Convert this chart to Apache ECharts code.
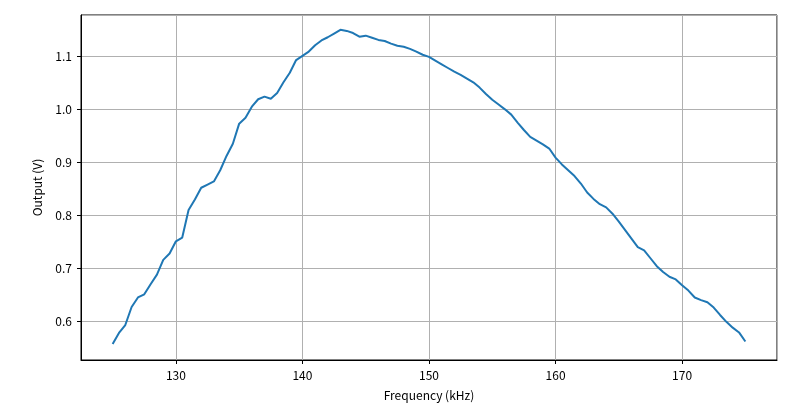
<!DOCTYPE html>
<html>
<head>
<meta charset="utf-8">
<script src="https://cdn.jsdelivr.net/npm/echarts@6/dist/echarts.min.js"></script>
<style>
html,body{margin:0;padding:0;background:#fff;}
#chart{width:800px;height:409px;}
</style>
</head>
<body>
<div id="chart"></div>
<script>
var frequency = [
125.0,125.5,126.0,126.5,127.0,127.5,128.0,128.5,129.0,129.5,
130.0,130.5,131.0,131.5,132.0,132.5,133.0,133.5,134.0,134.5,
135.0,135.5,136.0,136.5,137.0,137.5,138.0,138.5,139.0,139.5,
140.0,140.5,141.0,141.5,142.0,142.5,143.0,143.5,144.0,144.5,
145.0,145.5,146.0,146.5,147.0,147.5,148.0,148.5,149.0,149.5,
150.0,150.5,151.0,151.5,152.0,152.5,153.0,153.5,154.0,154.5,
155.0,155.5,156.0,156.5,157.0,157.5,158.0,158.5,159.0,159.5,
160.0,160.5,161.0,161.5,162.0,162.5,163.0,163.5,164.0,164.5,
165.0,165.5,166.0,166.5,167.0,167.5,168.0,168.5,169.0,169.5,
170.0,170.5,171.0,171.5,172.0,172.5,173.0,173.5,174.0,174.5,
175.0
];
var outputV = [
0.557,0.578,0.593,0.627,0.645,0.651,0.670,0.688,0.716,0.728,
0.751,0.758,0.810,0.830,0.852,0.858,0.864,0.885,0.912,0.935,
0.973,0.984,1.005,1.019,1.024,1.020,1.031,1.051,1.069,1.093,
1.101,1.109,1.121,1.130,1.136,1.143,1.150,1.148,1.144,1.137,
1.139,1.135,1.131,1.129,1.124,1.120,1.118,1.114,1.109,1.103,
1.099,1.092,1.085,1.078,1.071,1.065,1.058,1.051,1.041,1.029,
1.018,1.009,1.000,0.990,0.975,0.961,0.948,0.941,0.934,0.926,
0.909,0.896,0.885,0.874,0.860,0.843,0.831,0.821,0.815,0.803,
0.788,0.772,0.756,0.740,0.734,0.719,0.704,0.693,0.684,0.679,
0.668,0.658,0.645,0.640,0.636,0.626,0.612,0.599,0.588,0.579,
0.562
];
var xTitle = 'Frequency (kHz)';
var yTitle = 'Output (V)';

var seriesData = frequency.map(function(f, i){ return [f, outputV[i]]; });
var FONT = '"Noto Sans CJK SC", sans-serif';

var chart = echarts.init(document.getElementById('chart'), null, {renderer:'canvas'});
chart.setOption({
  animation: false,
  backgroundColor: '#ffffff',
  grid: {left: 81, right: 23, top: 15, bottom: 49, show: true, borderColor: '#000', borderWidth: 1, containLabel: false},
  xAxis: {
    type: 'value', min: 122.5, max: 177.5, minInterval: 10, maxInterval: 10,
    name: xTitle, nameLocation: 'middle', nameGap: 29,
    nameTextStyle: {color: '#000', fontSize: 12, fontFamily: FONT},
    axisLine: {show: true, onZero: false, lineStyle: {color: '#000', width: 1}},
    axisTick: {show: true, inside: false, length: 4, lineStyle: {color: '#000'}},
    axisLabel: {color: '#000', fontSize: 12, fontFamily: FONT, margin: 9, showMinLabel: false, showMaxLabel: false},
    splitLine: {show: true, lineStyle: {color: '#b0b0b0', width: 1}}
  },
  yAxis: {
    type: 'value', min: 0.527, max: 1.178, minInterval: 0.1, maxInterval: 0.1,
    name: yTitle, nameLocation: 'middle', nameGap: 38, nameRotate: 90,
    nameTextStyle: {color: '#000', fontSize: 12, fontFamily: FONT},
    axisLine: {show: true, onZero: false, lineStyle: {color: '#000', width: 1}},
    axisTick: {show: true, inside: false, length: 4, lineStyle: {color: '#000'}},
    axisLabel: {color: '#000', fontSize: 12, fontFamily: FONT, margin: 9, showMinLabel: false, showMaxLabel: false,
      formatter: function(v){ return v.toFixed(1); }},
    splitLine: {show: true, lineStyle: {color: '#b0b0b0', width: 1}}
  },
  series: [{
    type: 'line', data: seriesData, showSymbol: false, smooth: false,
    lineStyle: {color: '#1f77b4', width: 2}
  }]
});
</script>
</body>
</html>
